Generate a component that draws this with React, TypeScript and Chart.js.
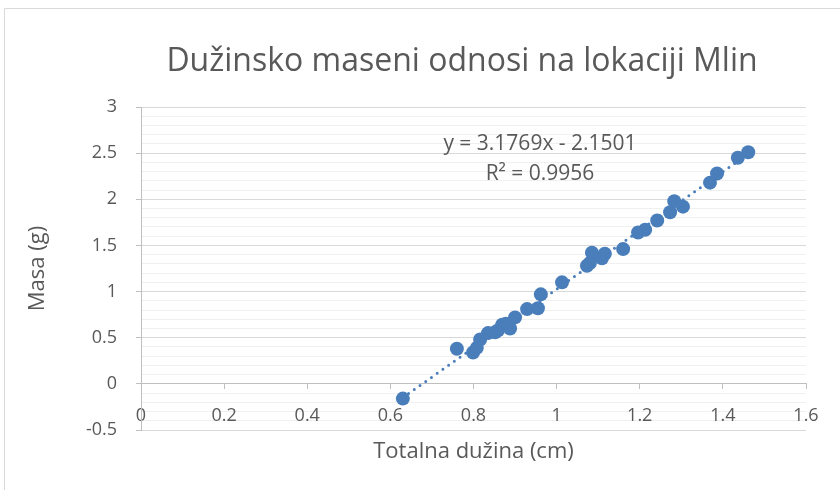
import React, { useEffect, useRef } from 'react';
import { Chart, registerables } from 'chart.js';

Chart.register(...registerables);

const FONT = "'Open Sans', 'Noto Sans', sans-serif";
const TEXT = '#595959';
const BLUE = '#4A7EBB';

const chartTitle = 'Dužinsko maseni odnosi na lokaciji Mlin';
const xAxisTitle = 'Totalna dužina (cm)';
const yAxisTitle = 'Masa (g)';

const lengthCm = [0.630, 0.760, 0.799, 0.808, 0.816, 0.835, 0.852, 0.859, 0.869, 0.878, 0.888, 0.900, 0.929, 0.955, 0.962, 1.013, 1.073, 1.080, 1.085, 1.109, 1.116, 1.160, 1.196, 1.213, 1.242, 1.273, 1.283, 1.304, 1.369, 1.386, 1.436, 1.461];
const massG = [-0.16, 0.38, 0.34, 0.39, 0.48, 0.55, 0.56, 0.58, 0.64, 0.65, 0.60, 0.72, 0.81, 0.82, 0.97, 1.10, 1.28, 1.31, 1.42, 1.36, 1.41, 1.46, 1.64, 1.67, 1.77, 1.86, 1.98, 1.92, 2.18, 2.28, 2.45, 2.51];

const trendSlope = 3.1769;
const trendIntercept = -2.1501;
const trendEquation = 'y = 3.1769x - 2.1501';
const trendR2 = 'R² = 0.9956';

const xMin = 0;
const xMax = 1.6;
const xStep = 0.2;
const yMin = -0.5;
const yMax = 3;
const yMajorStep = 0.5;
const yMinorStep = 0.1;

const isMajor = (v: number) => Math.abs(v / yMajorStep - Math.round(v / yMajorStep)) < 1e-6;

const decorPlugin = {
  id: 'decor',
  beforeDraw(chart: any) {
    const ctx = chart.ctx;
    ctx.save();
    ctx.fillStyle = '#ffffff';
    ctx.fillRect(0, 0, chart.width, chart.height);
    ctx.strokeStyle = '#d9d9d9';
    ctx.lineWidth = 1;
    ctx.beginPath();
    ctx.moveTo(4.5, chart.height);
    ctx.lineTo(4.5, 8.5);
    ctx.lineTo(chart.width, 8.5);
    ctx.stroke();
    ctx.restore();
  },
  afterDraw(chart: any) {
    const ctx = chart.ctx;
    ctx.save();
    ctx.fillStyle = TEXT;
    ctx.textAlign = 'center';
    ctx.textBaseline = 'alphabetic';
    ctx.font = `32px ${FONT}`;
    ctx.fillText(chartTitle, 462, 71);
    ctx.font = `21px ${FONT}`;
    ctx.fillText(trendEquation, 540, 150);
    ctx.fillText(trendR2, 540, 180);
    ctx.restore();
  },
};

export default function App() {
  const canvasRef = useRef<HTMLCanvasElement | null>(null);

  useEffect(() => {
    const canvas = canvasRef.current;
    if (!canvas) return;
    const points = lengthCm.map((x, i) => ({ x, y: massG[i] }));
    const tMin = Math.min(...lengthCm);
    const tMax = Math.max(...lengthCm);
    const trend = [
      { x: tMin, y: trendSlope * tMin + trendIntercept },
      { x: tMax, y: trendSlope * tMax + trendIntercept },
    ];

    const chart = new Chart(canvas, {
      type: 'scatter',
      data: {
        datasets: [
          {
            label: 'Masa',
            data: points,
            backgroundColor: BLUE,
            borderColor: BLUE,
            borderWidth: 0,
            pointRadius: 7,
            pointHoverRadius: 7,
            order: 1,
          },
          {
            type: 'line',
            label: 'Linear',
            data: trend,
            borderColor: BLUE,
            borderWidth: 3,
            borderDash: [0, 7],
            borderCapStyle: 'round',
            pointRadius: 0,
            fill: false,
            showLine: true,
            order: 2,
          } as any,
        ],
      },
      plugins: [decorPlugin],
      options: {
        animation: false,
        responsive: false,
        devicePixelRatio: 1,
        layout: { padding: { top: 107, right: 34, bottom: 0, left: 0 } },
        plugins: {
          legend: { display: false },
          tooltip: { enabled: false },
          title: { display: false },
        },
        scales: {
          x: {
            type: 'linear',
            position: { y: 0 } as any,
            min: xMin,
            max: xMax,
            ticks: {
              stepSize: xStep,
              color: TEXT,
              font: { family: FONT, size: 18 },
              padding: 16,
              maxRotation: 0,
              autoSkip: false,
              callback: (v: any) => String(Math.round(Number(v) * 10) / 10),
            },
            grid: { drawOnChartArea: false, drawTicks: true, tickLength: 5, tickColor: '#bfbfbf' },
            border: { display: true, color: '#bfbfbf', width: 1 },
          },
          x2: {
            type: 'linear',
            position: 'bottom',
            min: xMin,
            max: xMax,
            ticks: { display: false },
            grid: { display: false, drawTicks: false },
            border: { display: false },
            title: {
              display: true,
              text: xAxisTitle,
              color: TEXT,
              font: { family: FONT, size: 22 },
              padding: { top: 0, bottom: 25 },
            },
            afterFit: (s: any) => { s.height = 60; },
          },
          y: {
            type: 'linear',
            position: 'left',
            min: yMin,
            max: yMax,
            ticks: {
              stepSize: yMinorStep,
              autoSkip: false,
              color: TEXT,
              font: { family: FONT, size: 18 },
              padding: 19,
              callback: (v: any) => (isMajor(Number(v)) ? String(Math.round(Number(v) * 10) / 10) : ''),
            },
            grid: {
              drawOnChartArea: true,
              drawTicks: true,
              tickLength: 5,
              color: (c: any) => (isMajor(c.tick.value) ? '#d9d9d9' : '#f0f0f0'),
              tickColor: (c: any) => (isMajor(c.tick.value) ? '#bfbfbf' : 'rgba(0,0,0,0)'),
            },
            border: { display: true, color: '#bfbfbf', width: 1 },
            title: {
              display: true,
              text: yAxisTitle,
              color: TEXT,
              font: { family: FONT, size: 22 },
              padding: { top: 25, bottom: 0 },
            },
            afterFit: (s: any) => { s.width = 141; },
          },
        },
      } as any,
    });
    return () => chart.destroy();
  }, []);

  return (
    <div style={{ position: 'absolute', left: 0, top: 0, width: 840, height: 490, background: '#fff' }}>
      <canvas ref={canvasRef} width={840} height={490} style={{ display: 'block', width: 840, height: 490 }} />
    </div>
  );
}
